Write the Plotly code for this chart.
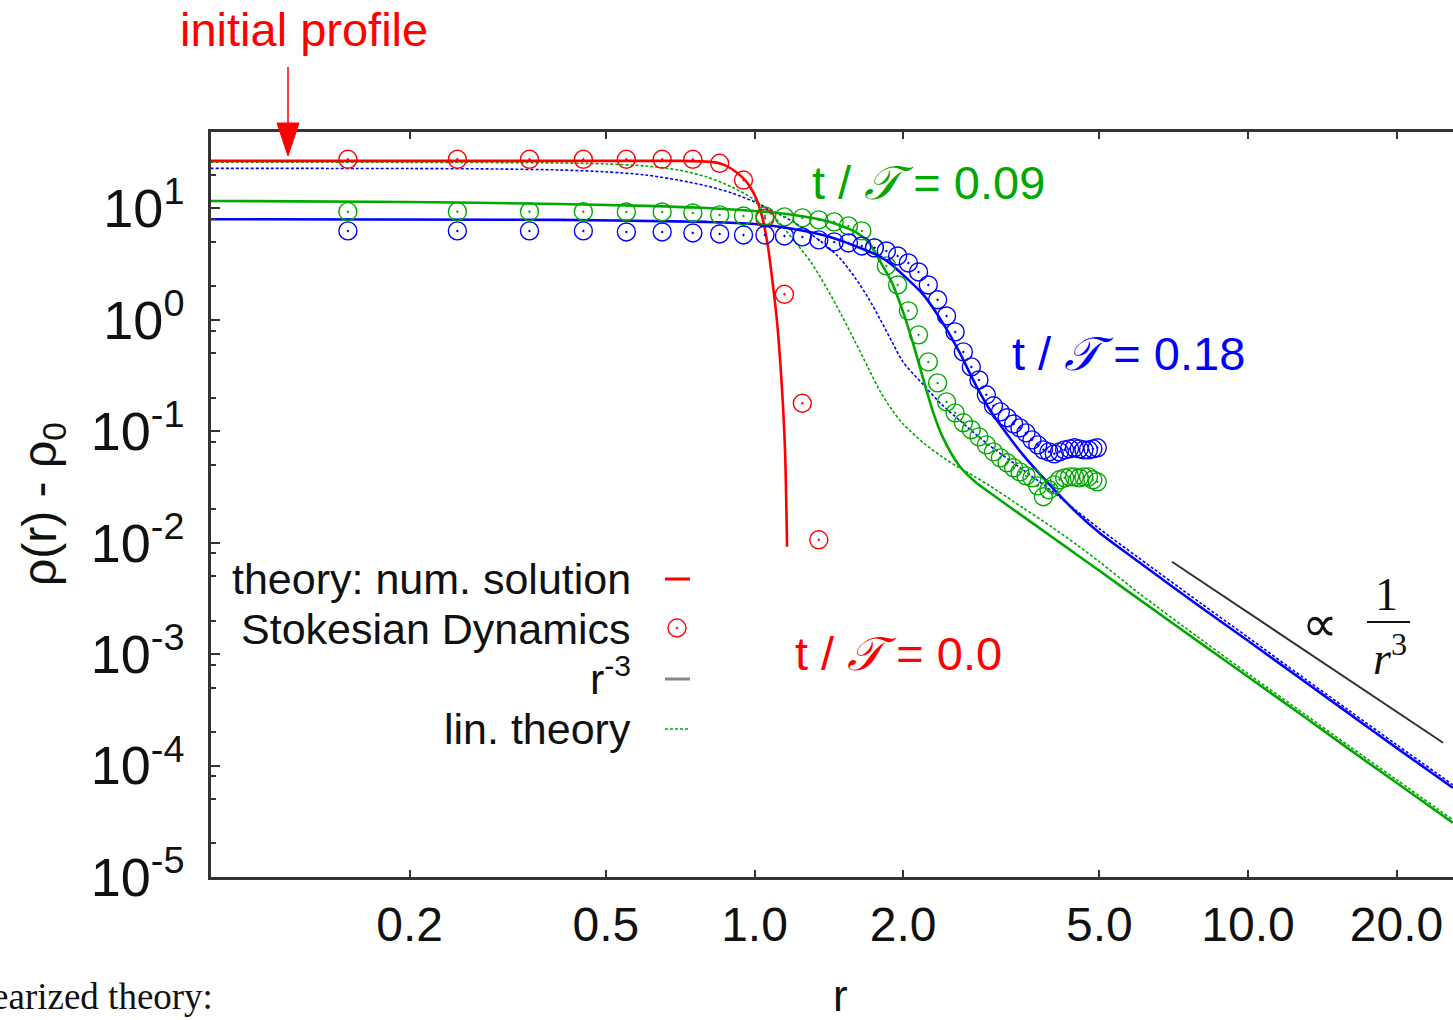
import plotly.graph_objects as go

# ------------------------------------------------------------------
# Data: rho(r) - rho_0 for the spreading density profile
# ------------------------------------------------------------------

# Stokesian Dynamics histogram bins (bin centres)
r_sd = [0.15, 0.25, 0.35, 0.45, 0.55, 0.65, 0.75, 0.85, 0.95, 1.05,
        1.15, 1.25, 1.35, 1.45, 1.55, 1.65, 1.75, 1.85, 1.95, 2.05,
        2.15, 2.25, 2.35, 2.45, 2.55, 2.65, 2.75, 2.85, 2.95, 3.05,
        3.15, 3.25, 3.35, 3.45, 3.55, 3.65, 3.75, 3.85, 3.95, 4.05,
        4.15, 4.25, 4.35, 4.45, 4.55, 4.65, 4.75, 4.85, 4.95]

# t/T = 0.0 (only the bins inside the initial cluster are non-zero)
r_sd_t0 = [0.15, 0.25, 0.35, 0.45, 0.55, 0.65, 0.75, 0.85, 0.95, 1.05,
           1.15, 1.25, 1.35]
rho_sd_t0 = [27.5, 27.5, 27.5, 27.5, 27.5, 27.5, 27.5, 25.3, 17.9, 8.13,
             1.69, 0.178, 0.0106]

# t/T = 0.09
rho_sd_t009 = [9.32, 9.32, 9.32, 9.32, 9.26, 9.26, 9.07, 8.71, 8.53, 8.53,
               8.36, 8.19, 7.86, 7.54, 6.94, 6.26, 4.41, 3.04, 2.05, 1.20,
               0.731, 0.418, 0.271, 0.183, 0.146, 0.119, 0.103, 0.0889, 0.0754, 0.0652,
               0.0576, 0.0520, 0.0469, 0.0431, 0.0397, 0.0381, 0.0323, 0.0258, 0.0298, 0.0330,
               0.0366, 0.0381, 0.0389, 0.0389, 0.0381, 0.0389, 0.0389, 0.0366, 0.0351]

# t/T = 0.18
rho_sd_t018 = [6.26, 6.26, 6.26, 6.26, 6.13, 6.13, 6.00, 5.88, 5.76, 5.76,
               5.64, 5.53, 5.20, 4.99, 4.88, 4.59, 4.41, 4.14, 3.73, 3.23,
               2.68, 2.05, 1.51, 1.08, 0.777, 0.514, 0.377, 0.288, 0.212, 0.169,
               0.149, 0.132, 0.116, 0.107, 0.0966, 0.0836, 0.0754, 0.0680, 0.0652, 0.0626,
               0.0652, 0.0680, 0.0694, 0.0709, 0.0694, 0.0680, 0.0680, 0.0694, 0.0709]

# Numerical solution of the nonlinear theory
r_num_t0 = [0.079, 0.5, 0.7, 0.8, 0.85, 0.9, 0.95, 0.98, 1.01, 1.04,
            1.065, 1.085, 1.11, 1.135, 1.153, 1.164]
rho_num_t0 = [26.6, 26.6, 26.6, 26.2, 25.3, 22.5, 18.5, 15.5, 12.0, 7.9,
              4.5, 2.4, 1.0, 0.27, 0.068, 0.0092]

r_num_t009 = [0.079, 0.2, 0.4, 0.6, 0.8, 1.0, 1.2, 1.4, 1.5, 1.6,
              1.7, 1.8, 1.9, 2.0, 2.1, 2.2, 2.3, 2.4, 2.6, 2.8,
              3.0, 3.5, 4.0, 4.5, 5.0, 6.0, 8.0, 10.0, 13.0, 16.0,
              20.0, 26.0]
rho_num_t009 = [11.63, 11.39, 10.93, 10.49, 10.06, 9.46, 8.71, 7.69, 6.94, 6.13,
                4.99, 3.30, 2.14, 1.175, 0.594, 0.288, 0.149, 0.0908, 0.0489, 0.0351,
                0.0280, 0.0172, 0.0113, 0.00779, 0.00559, 0.00313, 0.00126, 6.26e-4, 2.74e-4, 1.41e-4,
                7.01e-5, 3.07e-5]

r_num_t018 = [0.079, 0.4, 0.8, 1.0, 1.2, 1.4, 1.6, 1.8, 1.9, 2.0,
              2.2, 2.4, 2.6, 2.8, 3.0, 3.2, 3.5, 4.0, 4.5, 5.0,
              6.0, 8.0, 10.0, 13.0, 16.0, 20.0, 26.0]
rho_num_t018 = [7.97, 7.86, 7.54, 7.23, 6.52, 5.64, 4.59, 3.67, 3.10, 2.52,
                1.67, 0.956, 0.514, 0.266, 0.155, 0.103, 0.0613, 0.0317, 0.0185, 0.01224,
                0.00673, 0.00266, 0.001316, 5.70e-4, 2.94e-4, 1.44e-4, 6.32e-5]

# Linearized theory
r_lin_t009 = [0.079, 0.2, 0.4, 0.5, 0.6, 0.7, 0.8, 0.9, 1.0, 1.1,
              1.2, 1.3, 1.4, 1.5, 1.6, 1.7, 1.8, 1.9, 2.0, 2.2,
              2.4, 2.6, 2.8, 3.0, 3.5, 4.0, 4.5, 5.0, 6.0, 8.0,
              10.0, 13.0, 16.0, 20.0, 26.0]
rho_lin_t009 = [25.9, 25.8, 25.5, 24.96, 23.95, 22.06, 19.09, 15.5, 11.87, 8.19,
                5.20, 3.30, 1.93, 1.104, 0.632, 0.3695, 0.225, 0.155, 0.116, 0.0785,
                0.0588, 0.0469, 0.0389, 0.0323, 0.0205, 0.01385, 0.00956, 0.00673, 0.003546, 0.001372,
                6.66e-4, 2.91e-4, 1.505e-4, 7.46e-5, 3.265e-5]

r_lin_t018 = [0.079, 0.2, 0.3, 0.4, 0.5, 0.6, 0.7, 0.8, 0.9, 1.0,
              1.1, 1.2, 1.3, 1.4, 1.5, 1.6, 1.7, 1.8, 1.9, 2.0,
              2.2, 2.4, 2.6, 2.8, 3.0, 3.5, 4.0, 4.5, 5.0, 6.0,
              8.0, 10.0, 13.0, 16.0, 20.0, 26.0]
rho_lin_t018 = [22.8, 22.7, 22.5, 22.06, 21.2, 19.9, 17.9, 15.85, 13.7, 11.39,
                9.26, 7.54, 5.88, 4.59, 3.44, 2.37, 1.57, 0.996, 0.632, 0.418,
                0.260, 0.172, 0.126, 0.0946, 0.0738, 0.0450, 0.02915, 0.0192, 0.0133, 0.00731,
                0.002885, 0.001415, 6.07e-4, 3.13e-4, 1.54e-4, 6.73e-5]

# r^-3 guide line (end points)
r_pow = [7.015, 24.85]
rho_pow = [6.73e-3, 1.60e-4]

# Axis ticks
x_tickvals = [0.2, 0.5, 1.0, 2.0, 5.0, 10.0, 20.0]
x_ticktext = ["0.2", "0.5", "1.0", "2.0", "5.0", "10.0", "20.0"]
y_exponents = [-5, -4, -3, -2, -1, 0, 1]
y_minor = [20, 8, 5, 2, 0.8, 0.5, 0.2, 0.08, 0.05, 0.02, 0.008, 0.005, 0.002,
           8e-4, 5e-4, 2e-4, 8e-5, 5e-5, 2e-5]

# ------------------------------------------------------------------
RED, GREEN, BLUE = "#ff0000", "#00a800", "#0000ff"
AXIS = "#333333"
SANS = "Liberation Sans, Arial, sans-serif"
SERIF = "Liberation Serif, Times New Roman, serif"

W, H = 1453, 1020
ML, MR, MT, MB = 211, 0, 132, 143


def xp(x):
    """page pixel column -> paper x"""
    return (x - ML) / (W - ML - MR)


def yp(y):
    """page pixel row -> paper y"""
    return (H - MB - y) / (H - MT - MB)


fig = go.Figure()

lin_style = dict(width=1.6, dash="3px,2px", shape="spline", smoothing=0.8)
fig.add_trace(go.Scatter(x=r_lin_t009, y=rho_lin_t009, mode="lines",
                         line=dict(color=GREEN, **lin_style)))
fig.add_trace(go.Scatter(x=r_lin_t018, y=rho_lin_t018, mode="lines",
                         line=dict(color=BLUE, **lin_style)))

num_style = dict(width=2.6, shape="spline", smoothing=0.8)
fig.add_trace(go.Scatter(x=r_num_t0, y=rho_num_t0, mode="lines",
                         line=dict(color=RED, **num_style)))
fig.add_trace(go.Scatter(x=r_num_t009, y=rho_num_t009, mode="lines",
                         line=dict(color=GREEN, **num_style)))
fig.add_trace(go.Scatter(x=r_num_t018, y=rho_num_t018, mode="lines",
                         line=dict(color=BLUE, **num_style)))

fig.add_trace(go.Scatter(x=r_pow, y=rho_pow, mode="lines",
                         line=dict(color=AXIS, width=2)))

for rr, vals, col in [(r_sd_t0, rho_sd_t0, RED),
                      (r_sd, rho_sd_t009, GREEN),
                      (r_sd, rho_sd_t018, BLUE)]:
    fig.add_trace(go.Scatter(x=rr, y=vals, mode="markers",
                             marker=dict(symbol="circle-open-dot", size=18,
                                         color=col, line=dict(width=1.4))))

fig.update_traces(showlegend=False, hoverinfo="skip")

annotations = []


def label(text, x, y, size, color="#111111", family=SANS, xanchor="center",
          angle=0):
    annotations.append(dict(text=text, x=xp(x), y=yp(y), xref="paper",
                            yref="paper", showarrow=False, xanchor=xanchor,
                            yanchor="middle", textangle=angle,
                            font=dict(family=family, size=size, color=color)))


label("initial profile", 304, 29, 47, RED)
label("t / <i>\U0001D4AF</i> = 0.09", 810, 182, 47, GREEN, xanchor="left")
label("t / <i>\U0001D4AF</i> = 0.18", 1010, 353, 47, BLUE, xanchor="left")
label("t / <i>\U0001D4AF</i> = 0.0", 793, 653, 47, RED, xanchor="left")

# legend block (text right-aligned, sample to the right)
label("theory: num. solution", 633, 579, 43, xanchor="right")
label("Stokesian Dynamics", 633, 629, 43, xanchor="right")
label("r<sup>-3</sup>", 633, 676, 43, xanchor="right")
label("lin. theory", 633, 729, 43, xanchor="right")

# axis titles
label("\u03c1(r) - \u03c1<sub>0</sub>", 43, 504, 48, angle=-90)
label("r", 840, 995, 44)

# proportionality note next to the r^-3 guide
label("\u221d", 1320, 624, 50, family=SERIF)
label("1", 1386, 594, 46, family=SERIF)
label("<i>r</i><sup>3</sup>", 1390, 655, 46, family=SERIF)

label("linearized theory:", 215, 996, 37, family=SERIF, xanchor="right")

shapes = [
    # arrow to the initial profile
    dict(type="line", xref="paper", yref="paper", x0=xp(288), x1=xp(288),
         y0=yp(67), y1=yp(128), line=dict(color=RED, width=1.5)),
    dict(type="path", xref="paper", yref="paper",
         path=f"M{xp(277)},{yp(123)} L{xp(299)},{yp(123)} L{xp(288)},{yp(156)} Z",
         fillcolor=RED, line=dict(color=RED, width=1)),
    # fraction bar
    dict(type="line", xref="paper", yref="paper", x0=xp(1367), x1=xp(1410),
         y0=yp(622), y1=yp(622), line=dict(color="#111111", width=2)),
    # legend samples
    dict(type="line", xref="paper", yref="paper", x0=xp(665), x1=xp(690),
         y0=yp(579), y1=yp(579), line=dict(color=RED, width=3)),
    dict(type="circle", xref="paper", yref="paper", x0=xp(668), x1=xp(686),
         y0=yp(637), y1=yp(619), line=dict(color=RED, width=1.4)),
    dict(type="circle", xref="paper", yref="paper", x0=xp(676), x1=xp(678),
         y0=yp(629), y1=yp(627), fillcolor=RED, line=dict(color=RED, width=0.5)),
    dict(type="line", xref="paper", yref="paper", x0=xp(665), x1=xp(690),
         y0=yp(679), y1=yp(679), line=dict(color="#888888", width=3)),
    dict(type="line", xref="paper", yref="paper", x0=xp(665), x1=xp(690),
         y0=yp(729), y1=yp(729), line=dict(color=GREEN, width=1.5, dash="3px,2px")),
]

fig.update_layout(
    width=W, height=H,
    margin=dict(l=ML, r=MR, t=MT, b=MB, pad=0),
    paper_bgcolor="white", plot_bgcolor="white",
    showlegend=False,
    annotations=annotations,
    shapes=shapes,
    xaxis=dict(type="log", range=[-1.1013, 1.4154],
               tickmode="array", tickvals=x_tickvals, ticktext=x_ticktext,
               ticks="inside", ticklen=7, tickwidth=2, tickcolor=AXIS,
               showline=True, linecolor=AXIS, linewidth=2.5, mirror="ticks",
               showgrid=False, zeroline=False, ticklabelstandoff=4,
               tickfont=dict(family=SANS, size=48, color="#111111")),
    yaxis=dict(type="log", range=[-5, 1.684],
               tickmode="array", tickvals=[10.0 ** e for e in y_exponents],
               ticktext=[f"10<sup>{e}</sup>" for e in y_exponents],
               ticks="inside", ticklen=9, tickwidth=2, tickcolor=AXIS,
               minor=dict(tickmode="array", tickvals=y_minor, ticks="inside",
                          ticklen=5, tickwidth=2, tickcolor=AXIS, showgrid=False),
               showline=True, linecolor=AXIS, linewidth=2.5, mirror=False,
               showgrid=False, zeroline=False, ticklabelstandoff=13,
               tickfont=dict(family=SANS, size=54, color="#111111")),
)

fig.write_html("out.html")
